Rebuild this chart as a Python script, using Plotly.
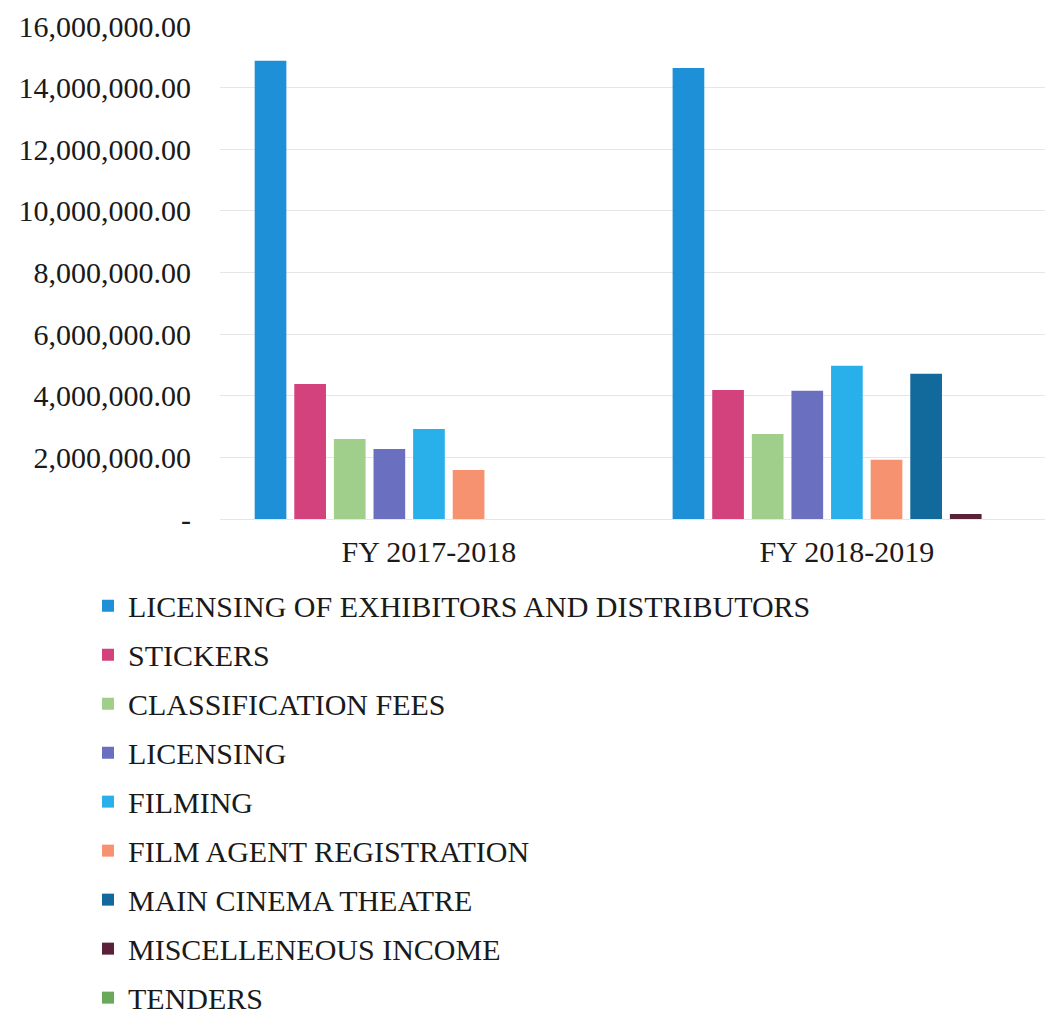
import plotly.graph_objects as go

categories = ["FY 2017-2018", "FY 2018-2019"]
series_names = [
    "LICENSING OF EXHIBITORS AND DISTRIBUTORS",
    "STICKERS",
    "CLASSIFICATION FEES",
    "LICENSING",
    "FILMING",
    "FILM AGENT REGISTRATION",
    "MAIN CINEMA THEATRE",
    "MISCELLENEOUS INCOME",
    "TENDERS",
]
licensing_exhibitors = [14870000, 14640000]
stickers = [4380000, 4190000]
classification_fees = [2600000, 2760000]
licensing = [2270000, 4160000]
filming = [2920000, 4970000]
film_agent_registration = [1590000, 1920000]
main_cinema_theatre = [0, 4710000]
miscelleneous_income = [0, 160000]
tenders = [0, 0]

series_values = [
    licensing_exhibitors, stickers, classification_fees, licensing, filming,
    film_agent_registration, main_cinema_theatre, miscelleneous_income, tenders,
]
colors = ["#1e90d7", "#d4427e", "#a0cf8c", "#6a6fc0", "#29b0eb",
          "#f79271", "#12699b", "#5a2238", "#6aa85a"]

tick_vals = [0, 2000000, 4000000, 6000000, 8000000, 10000000, 12000000, 14000000, 16000000]
tick_text = ["-", "2,000,000.00", "4,000,000.00", "6,000,000.00", "8,000,000.00",
             "10,000,000.00", "12,000,000.00", "14,000,000.00", "16,000,000.00"]

FONT = "Liberation Serif, Times New Roman, serif"

fig = go.Figure()
for i, (name, vals) in enumerate(zip(series_names, series_values)):
    fig.add_trace(go.Bar(
        name=name, x=categories, y=vals,
        marker=dict(color=colors[i], line=dict(width=0)),
        legendgroup=f"g{i}",
    ))

fig.update_layout(
    width=1045, height=1012,
    margin=dict(l=220, r=0, t=26, b=493, autoexpand=False),
    paper_bgcolor="white", plot_bgcolor="white",
    barmode="group", bargap=0.147, bargroupgap=0.2,
    font=dict(family=FONT, size=30, color="#1a1a1a"),
    showlegend=True,
    legend=dict(
        x=-0.16, y=-0.123, xanchor="left", yanchor="top",
        orientation="v", tracegroupgap=7,
        font=dict(family=FONT, size=30, color="#1a1a1a"),
        bgcolor="rgba(0,0,0,0)",
    ),
    xaxis=dict(
        type="category", range=[-0.5, 1.474],
        showgrid=False, showline=True, linecolor="#e6e6e6", linewidth=1,
        ticks="", tickfont=dict(family=FONT, size=30, color="#1a1a1a"),
        ticklabelstandoff=6, automargin=False,
    ),
    yaxis=dict(
        range=[0, 16000000], tickvals=tick_vals, ticktext=tick_text,
        showgrid=True, gridcolor="#e6e6e6", gridwidth=1,
        zeroline=False, showline=False, ticks="",
        tickfont=dict(family=FONT, size=30, color="#1a1a1a"),
        ticklabelstandoff=28, automargin=False,
    ),
)

fig.write_html("out.html")
